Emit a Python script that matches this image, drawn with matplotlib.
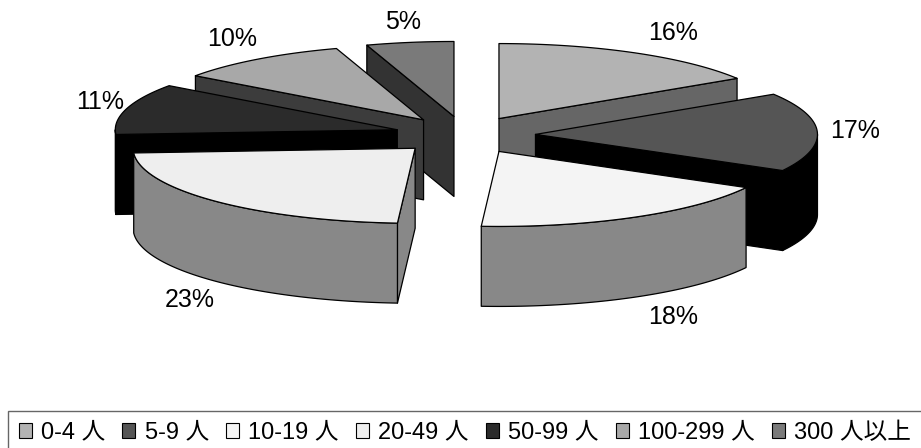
import matplotlib.pyplot as plt
import numpy as np
from matplotlib.patches import Polygon, Patch

plt.rcParams['font.family'] = ['Liberation Sans', 'Noto Sans CJK JP', 'DejaVu Sans']

# share of firms by number of employees
labels = ['0-4 人', '5-9 人', '10-19 人', '20-49 人', '50-99 人', '100-299 人', '300 人以上']
shares = [16, 17, 18, 23, 11, 10, 5]
top_colors = ['#b3b3b3', '#555555', '#f4f4f4', '#eeeeee', '#2b2b2b', '#a8a8a8', '#7a7a7a']
side_colors = ['#666666', '#000000', '#888888', '#888888', '#000000', '#3c3c3c', '#333333']

# pie geometry in pixel units
cx, cy = 465, 135
rx, ry = 282, 75
depth = 80
explode = 0.25

fig = plt.figure(figsize=(9.21, 4.48), dpi=100)
ax = fig.add_axes([0, 0, 1, 1])
ax.set_xlim(0, 921)
ax.set_ylim(448, 0)
ax.axis('off')


def arc(x0, y0, t0, t1, dy=0.0, n=80):
    t = np.linspace(t0, t1, n)
    return np.column_stack([x0 + rx * np.sin(t), y0 - ry * np.cos(t) + dy])


def face(pts, color, z):
    ax.add_patch(Polygon(pts, closed=True, facecolor=color, edgecolor='black',
                         linewidth=0.9, joinstyle='round', zorder=z))


bounds = np.concatenate([[0], np.cumsum(shares)]) / sum(shares) * 2 * np.pi

for i, s in enumerate(shares):
    t0, t1 = bounds[i], bounds[i + 1]
    mid = (t0 + t1) / 2
    ox = cx + explode * rx * np.sin(mid)
    oy = cy - explode * ry * np.cos(mid)
    z = 10 + 5 * (-np.cos(mid))  # back slices first

    # radial walls
    for t, show in ((t0, np.sin(t0) < -1e-6), (t1, np.sin(t1) > 1e-6)):
        if show:
            px, py = ox + rx * np.sin(t), oy - ry * np.cos(t)
            face([(ox, oy), (px, py), (px, py + depth), (ox, oy + depth)],
                 side_colors[i], z)

    # outer wall on the front half
    a, b = max(t0, np.pi / 2), min(t1, 3 * np.pi / 2)
    if b > a:
        top = arc(ox, oy, a, b)
        bot = arc(ox, oy, a, b, dy=depth)[::-1]
        face(np.vstack([top, bot]), side_colors[i], z + 0.1)

    # top face
    face(np.vstack([[(ox, oy)], arc(ox, oy, t0, t1)]), top_colors[i], z + 0.2)

    # percentage label just outside the rim
    ex = ox + rx * np.sin(mid)
    ey = oy - ry * np.cos(mid) + (depth if np.cos(mid) < 0 else 0)
    lx = ex + 32 * np.clip(2.5 * np.sin(mid), -1, 1) + 6
    ly = ey - 20 * np.clip(1.3 * np.cos(mid), -1, 1)
    ax.text(lx, ly, '%d%%' % s, fontsize=18, ha='center', va='center', zorder=1)

handles = [Patch(facecolor=c, edgecolor='black', linewidth=0.8) for c in top_colors]
fig.legend(handles, labels, loc='upper left', bbox_to_anchor=(8 / 921, 1 - 411 / 448),
           borderaxespad=0, ncol=7, fontsize=17, handlelength=0.55, handleheight=0.6,
           handletextpad=0.4, columnspacing=0.72, borderpad=0.45,
           fancybox=False, framealpha=1, edgecolor='#666666')

plt.savefig('out.png')
plt.close()
